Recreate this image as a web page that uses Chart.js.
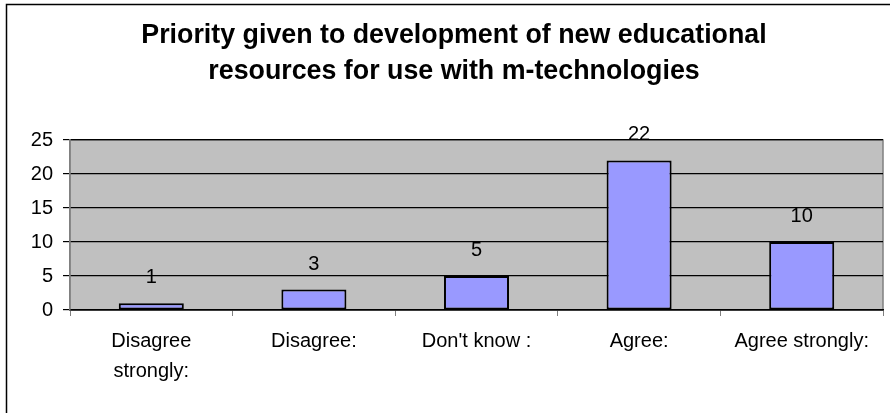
<!DOCTYPE html>
<html>
<head>
<meta charset="utf-8">
<script src="https://cdn.jsdelivr.net/npm/chart.js@4.4.1/dist/chart.umd.min.js"></script>
<style>
  body { margin: 0; background: #fff; }
  canvas { display: block; }
</style>
</head>
<body>
<canvas id="myChart1" width="890" height="413"></canvas>
<script>
const categories = [["Disagree", "strongly:"], "Disagree:", "Don't know :", "Agree:", "Agree strongly:"];
const values = [1, 3, 5, 22, 10];
const yTicks = [0, 5, 10, 15, 20, 25];
const titleLines = ["Priority given to development of new educational", "resources for use with m-technologies"];

const FONT = "'Liberation Sans', Arial, sans-serif";

// fondo gris del area del grafico + marco exterior
const plotBackground = {
  id: "plotBackground",
  beforeDraw(chart) {
    const { ctx, chartArea: a } = chart;
    ctx.save();
    ctx.fillStyle = "#c0c0c0";
    ctx.fillRect(a.left, a.top, a.right - a.left, a.bottom - a.top);
    ctx.strokeStyle = "#808080";
    ctx.lineWidth = 1.5;
    ctx.strokeRect(a.left, a.top, a.right - a.left, a.bottom - a.top);
    // marco del grafico (solo arriba e izquierda visibles)
    ctx.strokeStyle = "#000";
    ctx.lineWidth = 1.5;
    ctx.beginPath();
    ctx.moveTo(6.5, chart.height);
    ctx.lineTo(6.5, 4.5);
    ctx.lineTo(chart.width, 4.5);
    ctx.stroke();
    ctx.restore();
  },
};

// etiquetas con el valor encima de cada barra
const valueLabels = {
  id: "valueLabels",
  afterDatasetsDraw(chart) {
    const { ctx } = chart;
    const meta = chart.getDatasetMeta(0);
    ctx.save();
    ctx.font = "20px " + FONT;
    ctx.fillStyle = "#000";
    ctx.textAlign = "center";
    ctx.textBaseline = "alphabetic";
    meta.data.forEach((bar, i) => {
      ctx.fillText(String(values[i]), bar.x, bar.y - 20);
    });
    ctx.restore();
  },
};

const ctx = document.getElementById("myChart1").getContext("2d");

new Chart(ctx, {
  type: "bar",
  data: {
    labels: categories,
    datasets: [
      {
        data: values,
        backgroundColor: "#9999ff",
        borderColor: "#000",
        borderWidth: 2,
        borderSkipped: false,
        categoryPercentage: 1,
        barPercentage: 0.4,
      },
    ],
  },
  options: {
    responsive: false,
    animation: false,
    // padding izquierdo para centrar el titulo como en el original
    layout: { padding: { left: 25, right: 7, top: 0, bottom: 0 } },
    scales: {
      x: {
        grid: {
          offset: true,
          drawOnChartArea: false,
          drawTicks: true,
          tickLength: 6,
          color: "#808080",
        },
        border: { color: "#000", width: 1.5 },
        ticks: {
          color: "#000",
          font: { family: FONT, size: 20, lineHeight: 1.5 },
          padding: 10,
          maxRotation: 0,
          autoSkip: false,
        },
        afterFit(scale) { scale.height = 103; },
      },
      y: {
        min: 0,
        max: 25,
        afterBuildTicks(scale) { scale.ticks = yTicks.map(v => ({ value: v })); },
        grid: { color: "#000", lineWidth: 1.2, tickLength: 7, tickColor: "#000" },
        border: { color: "#808080", width: 1.5 },
        ticks: {
          color: "#000",
          font: { family: FONT, size: 20 },
          padding: 10,
        },
        afterFit(scale) { scale.width = 45; },
      },
    },
    plugins: {
      legend: { display: false },
      tooltip: { enabled: false },
      title: {
        display: true,
        text: titleLines,
        color: "#000",
        font: { family: FONT, size: 26.8, weight: "bold", lineHeight: 36 / 26.8 },
        padding: { top: 18, bottom: 50 },
      },
    },
  },
  plugins: [plotBackground, valueLabels],
});
</script>
</body>
</html>
